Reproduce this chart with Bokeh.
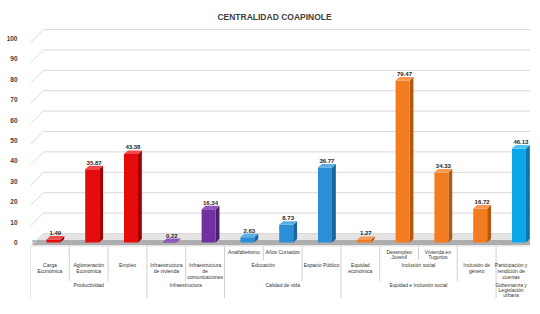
from bokeh.plotting import figure
from bokeh.models import FixedTicker, Range1d
from bokeh.embed import file_html
from bokeh.resources import INLINE
from bokeh.core.properties import value

# ---------------- data ----------------
values = [1.49, 35.87, 43.38, 0.22, 16.34, 2.63, 8.73, 36.77, 1.27, 79.47, 34.33, 16.72, 46.13]

# level 1 (indicators, only where a sub-dimension is split)
level1 = ["", "", "", "", "", "Analfabetismo", "Años Cursados", "", "",
          "Desempleo\nJuvenil", "Vivienda en\nTugurios", "", ""]
# level 2 (sub-dimensions)
level2 = ["Carga\nEconómica", "Aglomeración\nEconómica", "Empleo",
          "Infraestructura\nde vivienda", "Infraestructura\nde\ncomunicaciones",
          "Educación", "Educación", "Espacio Público",
          "Equidad\neconómica", "Inclusión social", "Inclusión social",
          "Inclusión de\ngénero", "Participación y\nrendición de\ncuentas"]
# level 3 (dimensions)
level3 = ["Productividad"] * 3 + ["Infraestructura"] * 2 + ["Calidad de vida"] * 3 + \
         ["Equidad e Inclusión social"] * 4 + ["Gobernanza y\nLegislación\nurbana"]

dim_front = {"Productividad": "#e30b0b", "Infraestructura": "#7030a0",
             "Calidad de vida": "#2a8fd6", "Equidad e Inclusión social": "#f47c20",
             "Gobernanza y\nLegislación\nurbana": "#0aa8ea"}
dim_side = {"Productividad": "#a30000", "Infraestructura": "#4c1d70",
            "Calidad de vida": "#1a659c", "Equidad e Inclusión social": "#b65810",
            "Gobernanza y\nLegislación\nurbana": "#0679aa"}
dim_top = {"Productividad": "#f04a4a", "Infraestructura": "#9358c0",
           "Calidad de vida": "#5aaee6", "Equidad e Inclusión social": "#f89a55",
           "Gobernanza y\nLegislación\nurbana": "#4cc4f2"}

y_ticks = list(range(0, 101, 10))
title_text = "CENTRALIDAD COAPINOLE"

# ---------------- styling constants ----------------
N = len(values)
X_END = 12.887
Y_START, Y_END = -27.45, 118.63
DX, DY = 0.10, 1.72          # bar depth (3D)
HALF_W = 0.18                # half width of the bar front
SHIFT = 0.09                 # bar shift inside its slot
WALL_DX, WALL_DY, FRONT_DY = 0.33, 4.41, -1.96
LABEL_X_MAX = X_END - 0.5    # keep the last column's labels inside the frame

p = figure(width=530, height=298, output_backend="svg", toolbar_location=None,
           title=None, x_axis_location=None,
           x_range=Range1d(0, X_END), y_range=Range1d(Y_START, Y_END),
           min_border_left=30, min_border_right=0, min_border_bottom=0, min_border_top=0)

p.xgrid.visible = False
p.ygrid.visible = False
p.outline_line_color = None
p.yaxis.ticker = FixedTicker(ticks=y_ticks)
p.yaxis.axis_line_color = None
p.yaxis.major_tick_line_color = None
p.yaxis.minor_tick_line_color = None
p.yaxis.major_label_standoff = 7
p.yaxis.major_label_text_font = "Liberation Sans"
p.yaxis.major_label_text_font_size = "6.5px"
p.yaxis.major_label_text_font_style = "bold"
p.yaxis.major_label_text_color = "#404040"

# title (drawn as text so that its place is exact)
p.text([6.29], [110.3], text=[title_text], text_align="center", text_baseline="middle",
       text_font=value("Liberation Sans"), text_font_size="8.5px",
       text_font_style="bold", text_color="#404040")

# ---------------- 3D walls / gridlines ----------------
p.patch([0, X_END, X_END, WALL_DX], [FRONT_DY, FRONT_DY, WALL_DY, WALL_DY],
        fill_color="#e4e4e4", line_color=None)
p.quad(left=0.05, right=X_END, bottom=-1.2, top=1.2, fill_color="#9c9c9c",
       fill_alpha=0.75, line_color=None)
gx0, gy0, gx1, gy1 = [], [], [], []
for t in y_ticks:
    gx0 += [0, WALL_DX]
    gy0 += [t + FRONT_DY, t + WALL_DY]
    gx1 += [WALL_DX, X_END]
    gy1 += [t + WALL_DY, t + WALL_DY]
p.segment(gx0, gy0, gx1, gy1, line_color="#d9d9d9", line_width=1)

# ---------------- bars ----------------
fx, ftop, fcol = [], [], []
side_xs, side_ys, side_c = [], [], []
top_xs, top_ys, top_c = [], [], []
lab_x, lab_y, lab_t = [], [], []
for i, v in enumerate(values):
    d = level3[i]
    cx = i + 0.5 + SHIFT
    xl, xr = cx - HALF_W, cx + HALF_W
    fx.append(cx); ftop.append(v); fcol.append(dim_front[d])
    side_xs.append([xr, xr + DX, xr + DX, xr])
    side_ys.append([0, DY, v + DY, v])
    side_c.append(dim_side[d])
    top_xs.append([xl, xr, xr + DX, xl + DX])
    top_ys.append([v, v, v + DY, v + DY])
    top_c.append(dim_top[d])
    lab_x.append(cx + DX / 2)
    lab_y.append(v + DY + 0.5)
    lab_t.append(f"{v:.2f}")

p.patches(side_xs, side_ys, fill_color=side_c, line_color=None)
p.vbar(x=fx, width=2 * HALF_W, top=ftop, bottom=0, fill_color=fcol, line_color=None)
p.patches(top_xs, top_ys, fill_color=top_c, line_color=None)
p.text(lab_x, lab_y, text=lab_t, text_align="center", text_baseline="bottom",
       text_font=value("Liberation Sans"), text_font_size="6px",
       text_font_style="bold", text_color="#262626")

# ---------------- multi-level category axis ----------------
ROW_A_BOTTOM, ROW_B_BOTTOM, BOTTOM = -8.82, -18.87, Y_START
sx0, sy0, sx1, sy1 = [], [], [], []
for b in range(0, N + 1):
    if b in (0, N) or level3[b - 1] != level3[b]:
        depth = BOTTOM
    elif level2[b - 1] != level2[b]:
        depth = ROW_B_BOTTOM
    else:
        depth = ROW_A_BOTTOM
    sx0.append(b); sy0.append(FRONT_DY); sx1.append(b); sy1.append(depth)
p.segment(sx0, sy0, sx1, sy1, line_color="#d0d0d0", line_width=1)

tx, ty, tt = [], [], []
rows = [(level1, -4.66, 2.45), (level2, -11.27, 2.94), (level3, -20.83, 2.45)]
for labels, first_y, step in rows:
    i = 0
    while i < N:
        j = i
        while j + 1 < N and labels[j + 1] == labels[i]:
            j += 1
        if labels[i]:
            for k, line in enumerate(labels[i].split("\n")):
                tx.append(min((i + j + 1) / 2, LABEL_X_MAX))
                ty.append(first_y - k * step)
                tt.append(line)
        i = j + 1
p.text(tx, ty, text=tt, text_align="center", text_baseline="middle",
       text_font=value("Liberation Sans"), text_font_size="5px",
       text_color="#333333")

open("out.html", "w").write(file_html(p, INLINE))
